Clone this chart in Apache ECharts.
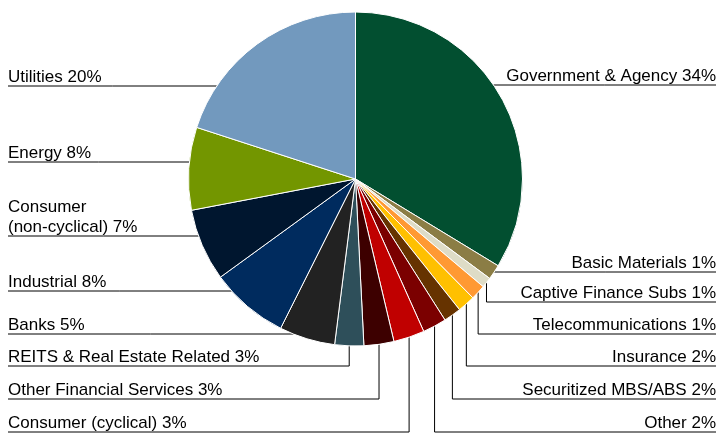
<!DOCTYPE html>
<html>
<head>
<meta charset="utf-8">
<script src="https://cdn.jsdelivr.net/npm/echarts@6/dist/echarts.min.js"></script>
<style>html,body{margin:0;padding:0;background:#fff;}#c{width:720px;height:433px;}</style>
</head>
<body>
<div id="c"></div>
<script>
// ---- data ----
const categories = [
  'Government & Agency', 'Basic Materials', 'Captive Finance Subs', 'Telecommunications',
  'Insurance', 'Securitized MBS/ABS', 'Other', 'Consumer (cyclical)',
  'Other Financial Services', 'REITS & Real Estate Related', 'Banks', 'Industrial',
  'Consumer\n(non-cyclical)', 'Energy', 'Utilities'
];
// slice shares (unrounded)
const values = [33.7, 1.45, 1.0, 1.45, 1.7, 1.7, 2.3, 3.0, 2.9, 2.8, 5.4, 7.6, 7.0, 8.0, 20.0];
// percentages printed in the labels
const labelPct = [34, 1, 1, 1, 2, 2, 2, 3, 3, 3, 5, 8, 7, 8, 20];
const colors = [
  '#024F30', '#8B7D45', '#DEDCC6', '#FF9933', '#FFC000', '#663300', '#7B0000', '#C00000',
  '#3D0000', '#2E4F5A', '#222222', '#002B5E', '#00162F', '#739600', '#7299BE'
];

// ---- layout (label rows) ----
const CX = 355.5, CY = 179, R = 167;
const rowY   = [85, 272, 302, 334, 366, 399, 432, 432, 399, 366, 334, 291, 236, 162, 86];
const side   = ['r','r','r','r','r','r','r','l','l','l','l','l','l','l','l'];
const drop   = [0,0,1,1,1,1,1,1,1,1,0,0,0,0,0];
const LEFT_X = 8, RIGHT_X = 716;

const total = values.reduce((a, b) => a + b, 0);
const cum = [];
values.reduce((acc, v, i) => { cum[i] = acc + v / 2; return acc + v; }, 0);

const chart = echarts.init(document.getElementById('c'), null, {renderer: 'canvas'});
chart.setOption({
  animation: false,
  series: [{
    type: 'pie',
    center: [CX, CY],
    radius: R,
    startAngle: 90,
    clockwise: true,
    avoidLabelOverlap: false,
    itemStyle: {borderColor: '#fff', borderWidth: 1},
    label: {
      show: true,
      position: 'outside',
      formatter: p => p.name + ' ' + labelPct[p.dataIndex] + '%',
      fontFamily: 'Liberation Sans, Arial, sans-serif',
      fontSize: 17,
      lineHeight: 20,
      color: '#000'
    },
    labelLine: {show: true, length: 5, length2: 5, lineStyle: {color: '#000', width: 1}},
    emphasis: {disabled: true},
    labelLayout: function (params) {
      const i = params.dataIndex;
      const ly = rowY[i];
      const isRight = side[i] === 'r';
      const endX = isRight ? RIGHT_X : LEFT_X;
      let pts;
      if (drop[i]) {
        const th = 2 * Math.PI * cum[i] / total;
        const px = CX + R * Math.sin(th);
        const py = CY - R * Math.cos(th);
        pts = [[px, py], [px, ly], [endX, ly]];
      } else {
        const dx = Math.sqrt(Math.max(0, R * R - (ly - CY) * (ly - CY)));
        const ex = isRight ? CX + dx : CX - dx;
        pts = [[ex, ly], [(ex + endX) / 2, ly], [endX, ly]];
      }
      return {
        x: endX,
        y: ly + 1,
        align: isRight ? 'right' : 'left',
        verticalAlign: 'bottom',
        labelLinePoints: pts
      };
    },
    data: categories.map((n, i) => ({name: n, value: values[i], itemStyle: {color: colors[i]}}))
  }]
});
</script>
</body>
</html>
